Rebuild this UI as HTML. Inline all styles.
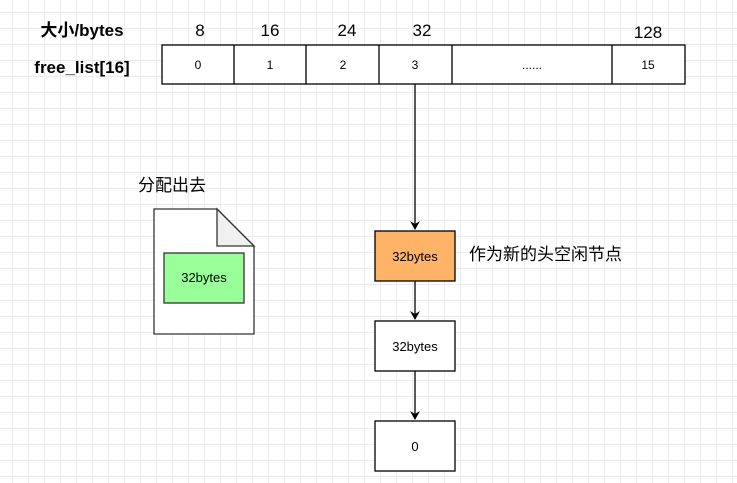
<!DOCTYPE html>
<html><head><meta charset="utf-8"><style>
html,body{margin:0;padding:0}
body{width:737px;height:483px;overflow:hidden;background:#fff;
background-image:linear-gradient(#ececec 1px,transparent 1px),linear-gradient(90deg,#ececec 1px,transparent 1px);
background-size:16px 16px;background-position:-4px -4px;}
svg text{font-family:"Liberation Sans","Noto Sans CJK SC",sans-serif;}
</style></head><body>
<svg width="737" height="483" xmlns="http://www.w3.org/2000/svg" style="position:absolute;left:0;top:0">
<defs><marker id="a" markerWidth="10" markerHeight="10" refX="8" refY="5" orient="auto" markerUnits="userSpaceOnUse"><path d="M0,0 L9,5 L0,10 L3,5 z" fill="#000"/></marker></defs>
<text x="82" y="36" font-size="17" font-weight="bold" text-anchor="middle">大小/bytes</text>
<text x="82" y="73" font-size="17" font-weight="bold" text-anchor="middle">free_list[16]</text>
<g font-size="17" text-anchor="middle">
<text x="200" y="36">8</text><text x="270" y="36">16</text><text x="347" y="36">24</text><text x="422" y="36">32</text><text x="648" y="38">128</text>
</g>
<g fill="#fff" stroke="#000" stroke-width="1.3">
<rect x="162" y="45" width="523" height="39"/>
<line x1="234" y1="45" x2="234" y2="84"/><line x1="306" y1="45" x2="306" y2="84"/><line x1="379" y1="45" x2="379" y2="84"/><line x1="452" y1="45" x2="452" y2="84"/><line x1="612" y1="45" x2="612" y2="84"/>
</g>
<g font-size="12" text-anchor="middle">
<text x="198" y="69">0</text><text x="270" y="69">1</text><text x="343" y="69">2</text><text x="415" y="69">3</text><text x="532" y="69">......</text><text x="648" y="69">15</text>
</g>
<line x1="415" y1="84" x2="415" y2="229" stroke="#000" stroke-width="1.3" marker-end="url(#a)"/>
<rect x="375" y="231" width="80" height="50" fill="#ffb366" stroke="#000" stroke-width="1.3"/>
<text x="415" y="261" font-size="13" text-anchor="middle">32bytes</text>
<text x="469" y="260" font-size="17">作为新的头空闲节点</text>
<line x1="415" y1="281" x2="415" y2="319" stroke="#000" stroke-width="1.3" marker-end="url(#a)"/>
<rect x="375" y="321" width="80" height="50" fill="#fff" stroke="#000" stroke-width="1.3"/>
<text x="415" y="351" font-size="13" text-anchor="middle">32bytes</text>
<line x1="415" y1="371" x2="415" y2="419" stroke="#000" stroke-width="1.3" marker-end="url(#a)"/>
<rect x="375" y="421" width="80" height="50" fill="#fff" stroke="#000" stroke-width="1.3"/>
<text x="415" y="451" font-size="13" text-anchor="middle">0</text>
<text x="138" y="191" font-size="17">分配出去</text>
<path d="M154,209 L217,209 L254,246 L254,334 L154,334 Z" fill="#fff" stroke="#333" stroke-width="1.3"/>
<path d="M217,209 L217,246 L254,246 Z" fill="#f0f0f0" stroke="#333" stroke-width="1.3"/>
<rect x="164" y="253" width="80" height="50" fill="#99ff99" stroke="#333" stroke-width="1.3"/>
<text x="204" y="282" font-size="13" text-anchor="middle">32bytes</text>
</svg>
</body></html>
